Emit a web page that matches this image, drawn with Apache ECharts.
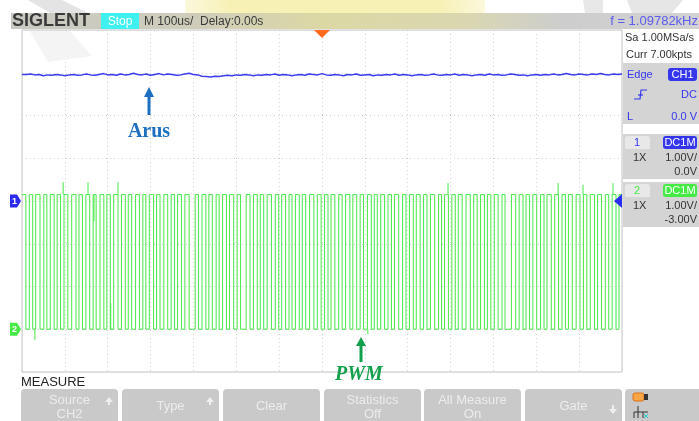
<!DOCTYPE html>
<html>
<head>
<meta charset="utf-8">
<script src="https://cdn.jsdelivr.net/npm/echarts@6/dist/echarts.min.js"></script>
<style>
html,body{margin:0;padding:0;background:#fff}
#scope{width:699px;height:421px}
</style>
</head>
<body>
<div id="scope"></div>
<script>
// ---- acquisition settings ----
const timePerDivUs = 100;          // M 100us/
const horizDivs = 14;
const vertDivs = 8;
const ch1VoltsPerDiv = 1.0, ch1OffsetV = 0.0;
const ch2VoltsPerDiv = 1.0, ch2OffsetV = -3.0;
const triggerLevelV = 0.0;
const triggerDelayUs = 0.0;

// ---- CH1 (current sense) samples, one every 10 us from -700 us ----
const ch1StartUs = -700;
const ch1StepUs = 10;
const ch1Volts = [
  2.96,2.97,2.95,2.96,2.93,2.95,2.94,2.96,2.95,2.93,
  2.95,2.96,2.94,2.95,2.97,2.95,2.94,2.96,2.98,2.95,
  2.96,2.94,2.97,2.95,2.96,2.99,2.96,2.95,2.97,2.94,
  2.96,2.98,2.95,2.97,2.96,2.94,2.95,2.97,2.99,2.96,
  2.95,2.92,2.91,2.90,2.92,2.91,2.93,2.94,2.93,2.95,
  2.94,2.96,2.95,2.93,2.95,2.94,2.96,2.95,2.97,2.94,
  2.96,2.95,2.93,2.95,2.96,2.94,2.97,2.96,2.95,2.98,
  2.95,2.94,2.96,2.95,2.93,2.96,2.95,2.97,2.94,2.95,
  2.96,2.93,2.95,2.94,2.96,2.95,2.97,2.94,2.96,2.95,
  2.93,2.95,2.96,2.94,2.95,2.97,2.95,2.94,2.96,2.95,
  2.97,2.94,2.96,2.95,2.93,2.95,2.96,2.94,2.97,2.95,
  2.96,2.94,2.95,2.97,2.96,2.94,2.95,2.93,2.95,2.96,
  2.94,2.96,2.95,2.97,2.95,2.96,2.98,2.96,2.95,2.97,
  2.96,2.95,2.97,2.96,2.98,2.96,2.95,2.97,2.96,2.97,
  2.96
];

// ---- CH2 (PWM) : high / low durations of each period, in us ----
const ch2HighV = 3.15;
const ch2LowV = 0.0;
const pwmHighUs = [
  9,8,10,7,9,8,9,10,8,9,
  7,9,8,10,9,8,9,7,10,8,
  9,8,9,10,8,9,8,7,9,10,
  8,9,9,8,10,8,9,7,9,8,
  10,9,8,9,8,10,9,8,9,7,
  9,8,10,8,9,9,8,10,7,9,
  8,9,10,8,9,8,9,7,10,9,
  8,9,8,10,9,8,9,9,8,10,
  9,8,9,10,8
];
const pwmLowUs = [
  8,7,9,8,7,8,9,7,8,8,
  9,7,8,8,7,9,8,8,7,9,
  8,7,8,14,8,7,9,8,7,8,
  13,8,7,8,9,7,8,8,7,9,
  8,8,7,9,8,7,8,9,7,8,
  8,7,9,8,7,8,8,9,7,8,
  7,9,8,8,7,8,9,15,8,7,
  8,9,7,8,8,7,9,8,8,7,
  9,8,7,8,9
];
// switching glitches on CH2: time (us), start level (V), peak (V)
const glitchTimesUs = [-670, -604, -546, -476, -532, -493, 107, 294, 551, 609, 679];
const glitchFromV   = [0.0,  3.15, 3.15, 3.15, 3.15, 0.0,  0.0, 3.15, 3.15, 3.15, 3.15];
const glitchToV     = [-0.25, 3.44, 3.44, 3.44, 2.53, 0.61, -0.12, 3.42, 3.42, 3.38, 3.42];

// ---- status texts ----
const timebaseText = 'M 100us/';
const delayText = 'Delay:0.00s';
const freqText = 'f = 1.09782kHz';
const sampleRateText = 'Sa 1.00MSa/s';
const memDepthText = 'Curr 7.00kpts';
const measureButtons = [
  ['Source', 'CH2', 'up'], ['Type', '', 'up'], ['Clear', '', ''],
  ['Statistics', 'Off', ''], ['All Measure', 'On', ''], ['Gate', '', 'down']
];

// ---- build traces in division units ----
const halfSpanUs = timePerDivUs * horizDivs / 2;
const toDiv1 = v => (v + ch1OffsetV) / ch1VoltsPerDiv;
const toDiv2 = v => (v + ch2OffsetV) / ch2VoltsPerDiv;

const ch1Data = ch1Volts.map((v, i) => [ch1StartUs + i * ch1StepUs, toDiv1(v)]);

const ch2Data = [];
(function () {
  let t = -halfSpanUs;
  const hi = toDiv2(ch2HighV), lo = toDiv2(ch2LowV);
  ch2Data.push([t, hi]);
  for (let i = 0; i < pwmHighUs.length; i++) {
    t += pwmHighUs[i];
    if (t >= halfSpanUs) { ch2Data.push([halfSpanUs, hi]); return; }
    ch2Data.push([t, hi], [t, lo]);
    t += pwmLowUs[i];
    if (t >= halfSpanUs) { ch2Data.push([halfSpanUs, lo]); return; }
    ch2Data.push([t, lo], [t, hi]);
  }
  ch2Data.push([halfSpanUs, hi]);
})();

const glitchSeries = glitchTimesUs.map((t, i) => ({
  type: 'line', silent: true, showSymbol: false, animation: false, z: 4,
  lineStyle: { color: '#45ea45', width: 1 },
  data: [[t, toDiv2(glitchFromV[i])], [t, toDiv2(glitchToV[i])]]
}));

const chart = echarts.init(document.getElementById('scope'), null, { renderer: 'canvas' });

const gridBox = { left: 22, top: 30, width: 600, height: 342 };

chart.setOption({
  backgroundColor: '#ffffff',
  animation: false,
  grid: Object.assign({ show: true, borderColor: '#c4c4c4', borderWidth: 1, backgroundColor: 'transparent' }, gridBox),
  xAxis: {
    type: 'value', min: -halfSpanUs, max: halfSpanUs, interval: timePerDivUs,
    axisLine: { show: false }, axisTick: { show: false }, axisLabel: { show: false },
    splitLine: { show: true, lineStyle: { color: '#d2d2d2', type: [1, 3], width: 1 } }
  },
  yAxis: {
    type: 'value', min: -vertDivs / 2, max: vertDivs / 2, interval: 1,
    axisLine: { show: false }, axisTick: { show: false }, axisLabel: { show: false },
    splitLine: { show: true, lineStyle: { color: '#d2d2d2', type: [1, 3], width: 1 } }
  },
  series: [
    {
      name: 'CH1', type: 'line', step: 'end', showSymbol: false, silent: true, z: 5,
      lineStyle: { color: '#3b3bef', width: 1.5 }, data: ch1Data
    },
    {
      name: 'CH2', type: 'line', showSymbol: false, silent: true, z: 4,
      lineStyle: { color: '#45ea45', width: 1 }, data: ch2Data
    }
  ].concat(glitchSeries)
});

// ---- screen furniture ----
function txt(x, y, text, font, fill, align, extra) {
  return Object.assign({
    type: 'text', silent: true, z: 20,
    style: { x: x, y: y, text: text, font: font, fill: fill,
      textAlign: align || 'left', align: align || 'left',
      textVerticalAlign: 'middle', verticalAlign: 'middle' }
  }, extra || {});
}
function box(x, y, w, h, fill, r, z) {
  return { type: 'rect', silent: true, z: z || 10, shape: { x: x, y: y, width: w, height: h, r: r || 0 }, style: { fill: fill } };
}
function poly(points, fill, z) {
  return { type: 'polygon', silent: true, z: z || 20, shape: { points: points }, style: { fill: fill } };
}
function seg(x1, y1, x2, y2, stroke, w, z) {
  return { type: 'line', silent: true, z: z || 20, shape: { x1: x1, y1: y1, x2: x2, y2: y2 }, style: { stroke: stroke, lineWidth: w } };
}

const ui = '"Liberation Sans", Arial, sans-serif';
const pOrigin = chart.convertToPixel({ gridIndex: 0 }, [triggerDelayUs, toDiv1(0)]);
const pCh2 = chart.convertToPixel({ gridIndex: 0 }, [0, toDiv2(0)]);
const pTrig = chart.convertToPixel({ gridIndex: 0 }, [halfSpanUs, toDiv1(triggerLevelV)]);
const y1 = pOrigin[1], y2 = pCh2[1], xTrig = pOrigin[0], yTrig = pTrig[1], xRight = pTrig[0];

const g = [];
// faint background emblem
g.push({
  type: 'rect', silent: true, z: 1, shape: { x: 185, y: 0, width: 300, height: 13 },
  style: { fill: new echarts.graphic.LinearGradient(0, 0, 1, 0, [
    { offset: 0, color: '#fbf8dc' }, { offset: 0.15, color: '#f7f1b6' },
    { offset: 0.85, color: '#f7f1b6' }, { offset: 1, color: '#fbf8dc' }]) }
});
g.push(poly([[28, 0], [62, 0], [88, 13], [50, 13]], '#e4e4e4', 1));
g.push(poly([[583, 0], [603, 0], [603, 13], [585, 13]], '#e8e8e8', 1));
g.push(poly([[627, 0], [683, 0], [672, 13], [632, 13]], '#e6e6e6', 1));
g.push(poly([[30, 31], [70, 31], [92, 56], [48, 62]], '#f4f4f4', 1));

// title bar
g.push({
  type: 'rect', silent: true, z: 8, shape: { x: 11, y: 13, width: 688, height: 16 },
  style: { fill: new echarts.graphic.LinearGradient(0, 0, 1, 0, [
    { offset: 0, color: '#c9c9c3' }, { offset: 0.28, color: '#cfcdb9' },
    { offset: 0.45, color: '#dcd8a4' }, { offset: 0.66, color: '#dad7b0' },
    { offset: 0.8, color: '#cdcdcd' }, { offset: 1, color: '#d2d2d2' }]) }
});
g.push(txt(12, 21.5, 'SIGLENT', 'bold 18px ' + ui, '#3a3a3a'));
g.push(box(101, 13, 38, 16, '#3ef0f0', 0, 12));
g.push(txt(120, 21.5, 'Stop', '12px ' + ui, '#ffffff', 'center'));
g.push(txt(144, 21.5, timebaseText, '12px ' + ui, '#3a3a3a'));
g.push(txt(200, 21.5, delayText, '12px ' + ui, '#3a3a3a'));
g.push(txt(698, 21.5, freqText, '13px ' + ui, '#5b5bef', 'right'));

// trigger position and level markers
g.push(poly([[xTrig - 8, 30], [xTrig + 8, 30], [xTrig, 38]], '#ff6a1c'));
g.push(poly([[xRight, yTrig - 7], [xRight, yTrig + 7], [xRight - 8, yTrig]], '#2b2bf0'));

// channel ground markers
g.push(poly([[10, y1 - 6.5], [17, y1 - 6.5], [21, y1], [17, y1 + 6.5], [10, y1 + 6.5]], '#2b2bf0'));
g.push(txt(14.5, y1 + 0.5, '1', 'bold 9px ' + ui, '#ffffff', 'center'));
g.push(poly([[10, y2 - 6.5], [17, y2 - 6.5], [21, y2], [17, y2 + 6.5], [10, y2 + 6.5]], '#45ea45'));
g.push(txt(14.5, y2 + 0.5, '2', 'bold 9px ' + ui, '#ffffff', 'center'));

// right info panel
g.push(txt(625, 38, sampleRateText, '11px ' + ui, '#333333'));
g.push(txt(626, 55, memDepthText, '11px ' + ui, '#333333'));
g.push(box(623, 63, 76, 61, '#d4d4d4'));
g.push(txt(627, 75, 'Edge', '11px ' + ui, '#3535ee'));
g.push(box(668, 68, 29, 13, '#3535ee', 3, 12));
g.push(txt(682.5, 75, 'CH1', '11px ' + ui, '#ffffff', 'center'));
g.push({ type: 'polyline', silent: true, z: 20, shape: { points: [[634, 99], [640, 99], [641, 90], [647, 90]] }, style: { stroke: '#3535ee', lineWidth: 1.2, fill: null } });
g.push(seg(638, 95, 643, 95, '#3535ee', 1.2));
g.push(txt(697, 95, 'DC', '11px ' + ui, '#3535ee', 'right'));
g.push(txt(627, 117, 'L', '11px ' + ui, '#3535ee'));
g.push(txt(697, 117, '0.0 V', '11px ' + ui, '#3535ee', 'right'));

function chanBox(top, num, color, vdiv, offs) {
  g.push(box(623, top, 76, 45, '#d4d4d4'));
  g.push(box(625, top + 2, 25, 13, '#e8e8e8', [3, 3, 0, 0], 11));
  g.push(txt(637, top + 8.5, num, '11px ' + ui, color, 'center'));
  g.push(box(663, top + 2, 34, 13, color, 3, 12));
  g.push(txt(680, top + 8.5, 'DC1M', '11px ' + ui, '#ffffff', 'center'));
  g.push(txt(633, top + 24, '1X', '11px ' + ui, '#333333'));
  g.push(txt(697, top + 24, vdiv, '11px ' + ui, '#333333', 'right'));
  g.push(txt(697, top + 38, offs, '11px ' + ui, '#333333', 'right'));
}
chanBox(134, '1', '#3535ee', ch1VoltsPerDiv.toFixed(2) + 'V/', ch1OffsetV.toFixed(1) + 'V');
chanBox(182, '2', '#45ea45', ch2VoltsPerDiv.toFixed(2) + 'V/', ch2OffsetV.toFixed(2) + 'V');

// annotations
g.push(seg(149, 115, 149, 95, '#1f6fc0', 3));
g.push(poly([[144, 97], [154, 97], [149, 87]], '#1f6fc0'));
g.push(txt(149, 132, 'Arus', 'bold 20px "Liberation Serif", "Times New Roman", serif', '#1f6fc0', 'center'));
g.push(seg(361, 362, 361, 344, '#13a04c', 3, 22));
g.push(poly([[356, 346], [366, 346], [361, 337]], '#13a04c', 22));
g.push(txt(359, 375, 'PWM', 'italic bold 20px "Liberation Serif", "Times New Roman", serif', '#13a04c', 'center', { z: 22 }));

// measure softkeys
g.push(txt(21, 382, 'MEASURE', '13px ' + ui, '#222222'));
const btnX = [21, 122, 223, 324, 424, 525];
measureButtons.forEach((b, i) => {
  const x = btnX[i], cx = x + 48.5;
  g.push(box(x, 389, 97, 34, '#c9c9c9', [4, 4, 0, 0]));
  if (b[1]) {
    g.push(txt(cx, 400, b[0], '13px ' + ui, '#ececec', 'center'));
    g.push(txt(cx, 414, b[1], '13px ' + ui, '#ececec', 'center'));
  } else {
    g.push(txt(cx, 406.5, b[0], '13px ' + ui, '#ececec', 'center'));
  }
  if (b[2] === 'up') {
    g.push(poly([[x + 84, 402], [x + 92, 402], [x + 88, 397]], '#efefef'));
    g.push(box(x + 87, 401, 2, 4, '#efefef', 0, 20));
  } else if (b[2] === 'down') {
    g.push(poly([[x + 84, 409], [x + 92, 409], [x + 88, 414]], '#efefef'));
    g.push(box(x + 87, 405, 2, 4, '#efefef', 0, 20));
  }
});
g.push(box(625, 389, 74, 34, '#c9c9c9', [4, 0, 0, 0]));
g.push({ type: 'rect', silent: true, z: 20, shape: { x: 633, y: 393, width: 11, height: 8, r: 2 }, style: { fill: '#f8a545', stroke: '#e07018', lineWidth: 1 } });
g.push(box(644, 394, 4, 6, '#333333', 0, 21));
g.push(seg(638, 406, 638, 418, '#333333', 1));
g.push(seg(634, 412, 648, 412, '#333333', 1));
g.push(seg(634, 412, 634, 418, '#333333', 1));
g.push(seg(643, 412, 643, 418, '#333333', 1));
g.push(seg(644, 414, 648, 418, '#22cccc', 1));
g.push(seg(648, 414, 644, 418, '#22cccc', 1));

chart.setOption({ graphic: { elements: g } });
</script>
</body>
</html>
